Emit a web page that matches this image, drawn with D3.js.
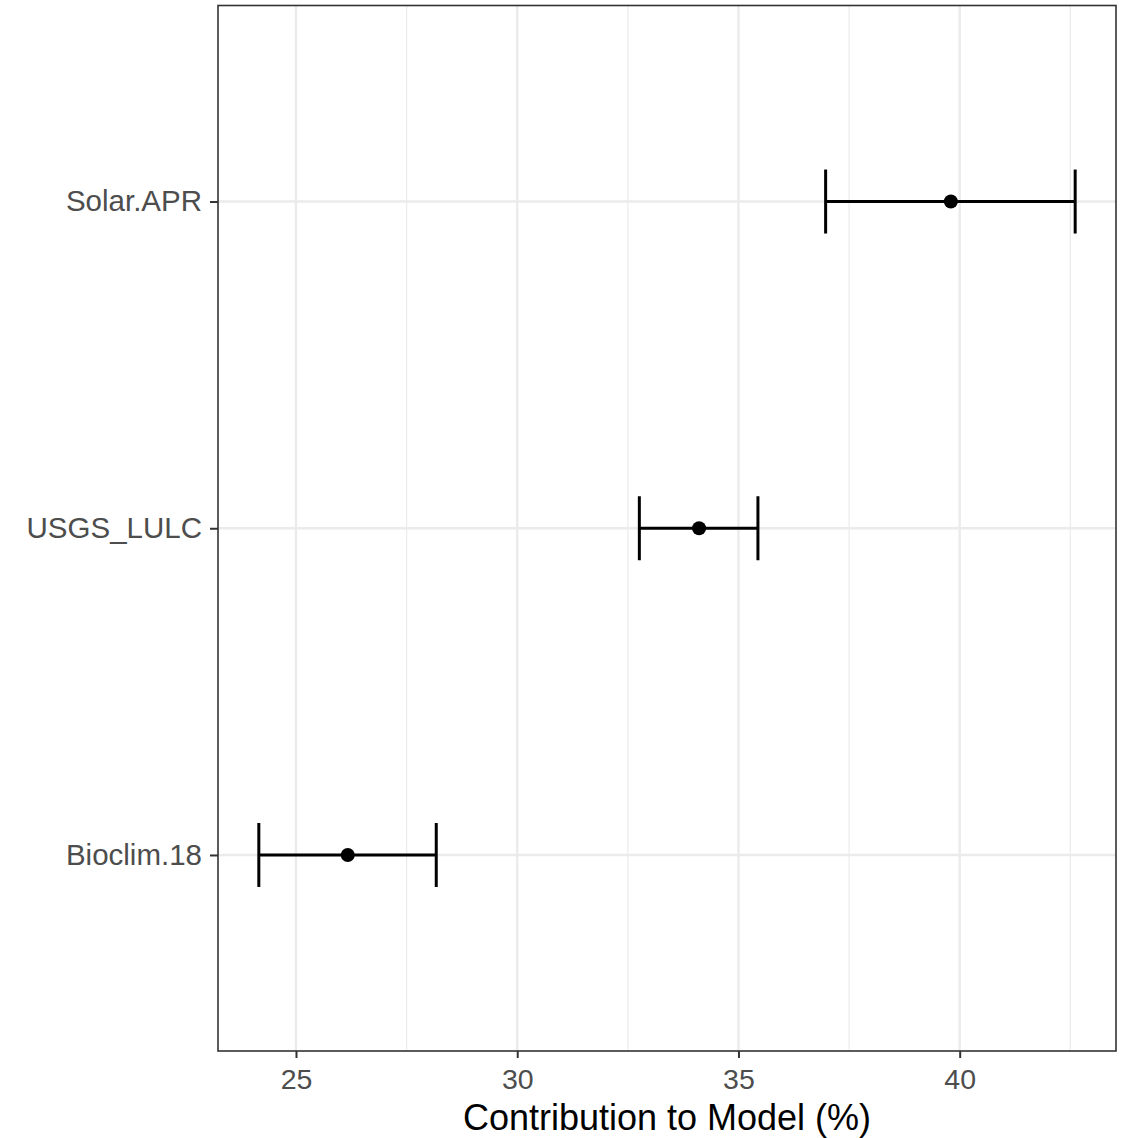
<!DOCTYPE html>
<html>
<head>
<meta charset="utf-8">
<script src="https://d3js.org/d3.v7.min.js"></script>
<style>
  body { margin: 0; background: #fff; }
  svg text { font-family: "Liberation Sans", Arial, sans-serif; }
</style>
</head>
<body>
<div id="chart"></div>
<script>
// Data
const variables = ["Bioclim.18", "USGS_LULC", "Solar.APR"];
const meanValues = [26.17, 34.11, 39.80];
const lowerValues = [24.16, 32.76, 36.97];
const upperValues = [28.17, 35.44, 42.61];
const xTicks = [25, 30, 35, 40];
const xMinorTicks = [27.5, 32.5, 37.5, 42.5];

const data = variables.map((v, i) => ({
    name: v, mean: meanValues[i], lo: lowerValues[i], hi: upperValues[i]
}));

// Set dimensions and margins
const totalW = 1130, totalH = 1138;
const margin = { top: 5.5, right: 14, bottom: 87, left: 218 };
const width = totalW - margin.left - margin.right;
const height = totalH - margin.top - margin.bottom;

const svg = d3.select("#chart")
    .append("svg")
    .attr("width", totalW)
    .attr("height", totalH)
    .append("g")
    .attr("transform", `translate(${margin.left},${margin.top})`);

// X scale with ggplot-like 5% expansion
const xMin = d3.min(data, d => d.lo), xMax = d3.max(data, d => d.hi);
const pad = (xMax - xMin) * 0.05;
const x = d3.scaleLinear()
    .domain([xMin - pad, xMax + pad])
    .range([0, width]);

// Y scale: discrete with 0.6 expansion on each side
const y = d3.scalePoint()
    .domain(variables.slice().reverse())
    .range([0, height])
    .padding(0.6);

// Grid lines
svg.selectAll(".minor-x")
    .data(xMinorTicks)
    .enter().append("line")
    .attr("x1", d => x(d)).attr("x2", d => x(d))
    .attr("y1", 0).attr("y2", height)
    .style("stroke", "#ebebeb").style("stroke-width", 1.2);

svg.selectAll(".major-x")
    .data(xTicks)
    .enter().append("line")
    .attr("x1", d => x(d)).attr("x2", d => x(d))
    .attr("y1", 0).attr("y2", height)
    .style("stroke", "#ebebeb").style("stroke-width", 2.4);

svg.selectAll(".major-y")
    .data(variables)
    .enter().append("line")
    .attr("x1", 0).attr("x2", width)
    .attr("y1", d => y(d)).attr("y2", d => y(d))
    .style("stroke", "#ebebeb").style("stroke-width", 2.4);

// Error bars
const capHalf = 32;
const bars = svg.selectAll(".errbar")
    .data(data)
    .enter().append("g");

bars.append("line")
    .attr("x1", d => x(d.lo)).attr("x2", d => x(d.hi))
    .attr("y1", d => y(d.name)).attr("y2", d => y(d.name))
    .style("stroke", "#000").style("stroke-width", 3);

bars.append("line")
    .attr("x1", d => x(d.lo)).attr("x2", d => x(d.lo))
    .attr("y1", d => y(d.name) - capHalf).attr("y2", d => y(d.name) + capHalf)
    .style("stroke", "#000").style("stroke-width", 3);

bars.append("line")
    .attr("x1", d => x(d.hi)).attr("x2", d => x(d.hi))
    .attr("y1", d => y(d.name) - capHalf).attr("y2", d => y(d.name) + capHalf)
    .style("stroke", "#000").style("stroke-width", 3);

bars.append("circle")
    .attr("cx", d => x(d.mean))
    .attr("cy", d => y(d.name))
    .attr("r", 7)
    .style("fill", "#000");

// Panel border
svg.append("rect")
    .attr("x", 0).attr("y", 0)
    .attr("width", width).attr("height", height)
    .style("fill", "none")
    .style("stroke", "#333333")
    .style("stroke-width", 1.6);

// X Axis
const xAxis = svg.append("g")
    .attr("transform", `translate(0,${height})`)
    .call(d3.axisBottom(x).tickValues(xTicks).tickSize(7).tickPadding(11));
xAxis.select(".domain").remove();
xAxis.selectAll(".tick line").style("stroke", "#333333").style("stroke-width", 2);
xAxis.selectAll("text")
    .style("font-size", "28.5px")
    .style("fill", "#4d4d4d");

// Y Axis
const yAxis = svg.append("g")
    .call(d3.axisLeft(y).tickSize(8).tickPadding(8));
yAxis.select(".domain").remove();
yAxis.selectAll(".tick line").style("stroke", "#333333").style("stroke-width", 2);
yAxis.selectAll("text")
    .style("font-size", "29.5px")
    .style("fill", "#4d4d4d");

// X Axis label
svg.append("text")
    .attr("x", width / 2)
    .attr("y", 1130 - margin.top)
    .style("text-anchor", "middle")
    .style("font-size", "36px")
    .style("fill", "#000")
    .text("Contribution to Model (%)");
</script>
</body>
</html>
